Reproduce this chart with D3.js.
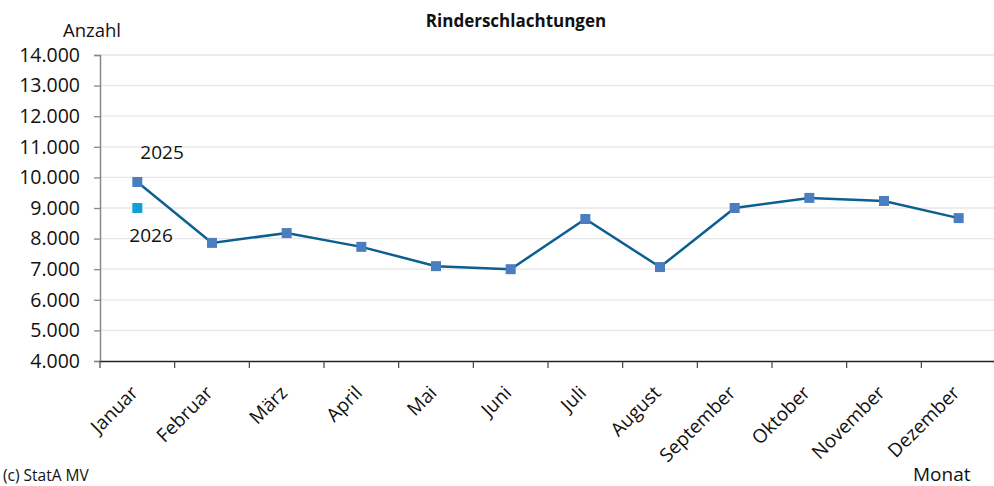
<!DOCTYPE html>
<html>
<head>
<meta charset="utf-8">
<script src="https://cdn.jsdelivr.net/npm/d3@7"></script>
<style>
  body { margin: 0; background: #fff; }
  svg { font-family: "Open Sans", Lato, sans-serif; }
</style>
</head>
<body>
<svg id="chart"></svg>
<script>
const months = ["Januar", "Februar", "März", "April", "Mai", "Juni", "Juli",
    "August", "September", "Oktober", "November", "Dezember"];
const values2025 = [9850, 7860, 8180, 7730, 7100, 7000, 8640, 7070, 9000, 9330, 9230, 8670];
const values2026 = [9000];
const yTicks = [4000, 5000, 6000, 7000, 8000, 9000, 10000, 11000, 12000, 13000, 14000];

const width = 994, height = 486;
const margin = { top: 55, right: -2, bottom: 125, left: 100 };

const svg = d3.select("#chart").attr("width", width).attr("height", height);

const x = d3.scaleBand().domain(months)
    .range([margin.left, width - margin.right]);
const y = d3.scaleLinear().domain([4000, 14000])
    .range([height - margin.bottom, margin.top]);

const fmt = v => d3.format(",")(v).replace(/,/g, ".");

// gridlines
svg.append("g")
    .selectAll("line")
    .data(yTicks.slice(1))
    .join("line")
    .attr("x1", margin.left).attr("x2", width)
    .attr("y1", d => y(d)).attr("y2", d => y(d))
    .attr("stroke", "#e6e6e6")
    .attr("stroke-width", 1.3);

// y axis
const yAxis = svg.append("g")
    .attr("transform", `translate(${margin.left},0)`)
    .call(d3.axisLeft(y).tickValues(yTicks).tickFormat(fmt).tickSize(6).tickPadding(14));
yAxis.select(".domain").attr("stroke", "#888").attr("stroke-width", 1.5);
yAxis.selectAll(".tick line").attr("stroke", "#888").attr("stroke-width", 1.3);
yAxis.selectAll("text").attr("font-size", 19.5).attr("fill", "#111")
    .attr("font-family", "'Open Sans', sans-serif");

// x axis
const xAxis = svg.append("g")
    .attr("transform", `translate(0,${y(4000)})`)
    .call(d3.axisBottom(x).tickSize(0).tickFormat(""));
xAxis.select(".domain").attr("stroke", "#222").attr("stroke-width", 1.3);

svg.append("g")
    .selectAll("line")
    .data(months)
    .join("line")
    .attr("x1", d => x(d)).attr("x2", d => x(d))
    .attr("y1", y(4000)).attr("y2", y(4000) + 7)
    .attr("stroke", "#444")
    .attr("stroke-width", 1.2);

svg.append("g")
    .selectAll("text")
    .data(months)
    .join("text")
    .attr("text-anchor", "end")
    .attr("transform", d => `translate(${x(d) + x.bandwidth() / 2 + 2},${y(4000) + 33}) rotate(-45)`)
    .attr("font-size", 19)
    .attr("fill", "#111")
    .text(d => d);

// line 2025
const line = d3.line()
    .x((d, i) => x(months[i]) + x.bandwidth() / 2)
    .y(d => y(d));

svg.append("path")
    .datum(values2025)
    .attr("d", line)
    .attr("fill", "none")
    .attr("stroke", "#0b5f91")
    .attr("stroke-width", 2.5);

svg.append("g")
    .selectAll("rect")
    .data(values2025)
    .join("rect")
    .attr("x", (d, i) => x(months[i]) + x.bandwidth() / 2 - 5)
    .attr("y", d => y(d) - 5)
    .attr("width", 10).attr("height", 10)
    .attr("fill", "#4a7ebf");

svg.append("g")
    .selectAll("rect")
    .data(values2026)
    .join("rect")
    .attr("x", (d, i) => x(months[i]) + x.bandwidth() / 2 - 5)
    .attr("y", d => y(d) - 5)
    .attr("width", 10).attr("height", 10)
    .attr("fill", "#0fa0d8");

// series labels
svg.append("text")
    .attr("x", x(months[0]) + x.bandwidth() / 2 + 3)
    .attr("y", y(values2025[0]) - 23)
    .attr("font-size", 19).attr("fill", "#111")
    .text("2025");

svg.append("text")
    .attr("x", x(months[0]) + x.bandwidth() / 2 - 8)
    .attr("y", y(values2026[0]) + 34)
    .attr("font-size", 19).attr("fill", "#111")
    .text("2026");

// titles
svg.append("text")
    .attr("x", 516).attr("y", 27)
    .attr("text-anchor", "middle")
    .attr("font-size", 17).attr("font-weight", "bold").attr("fill", "#111")
    .text("Rinderschlachtungen");

svg.append("text")
    .attr("x", 63).attr("y", 37)
    .attr("font-size", 18.5).attr("fill", "#111")
    .text("Anzahl");

svg.append("text")
    .attr("x", 913).attr("y", 481)
    .attr("font-size", 19).attr("fill", "#111")
    .text("Monat");

svg.append("text")
    .attr("x", 3).attr("y", 481)
    .attr("font-size", 15.5).attr("fill", "#111")
    .text("(c) StatA MV");
</script>
</body>
</html>
